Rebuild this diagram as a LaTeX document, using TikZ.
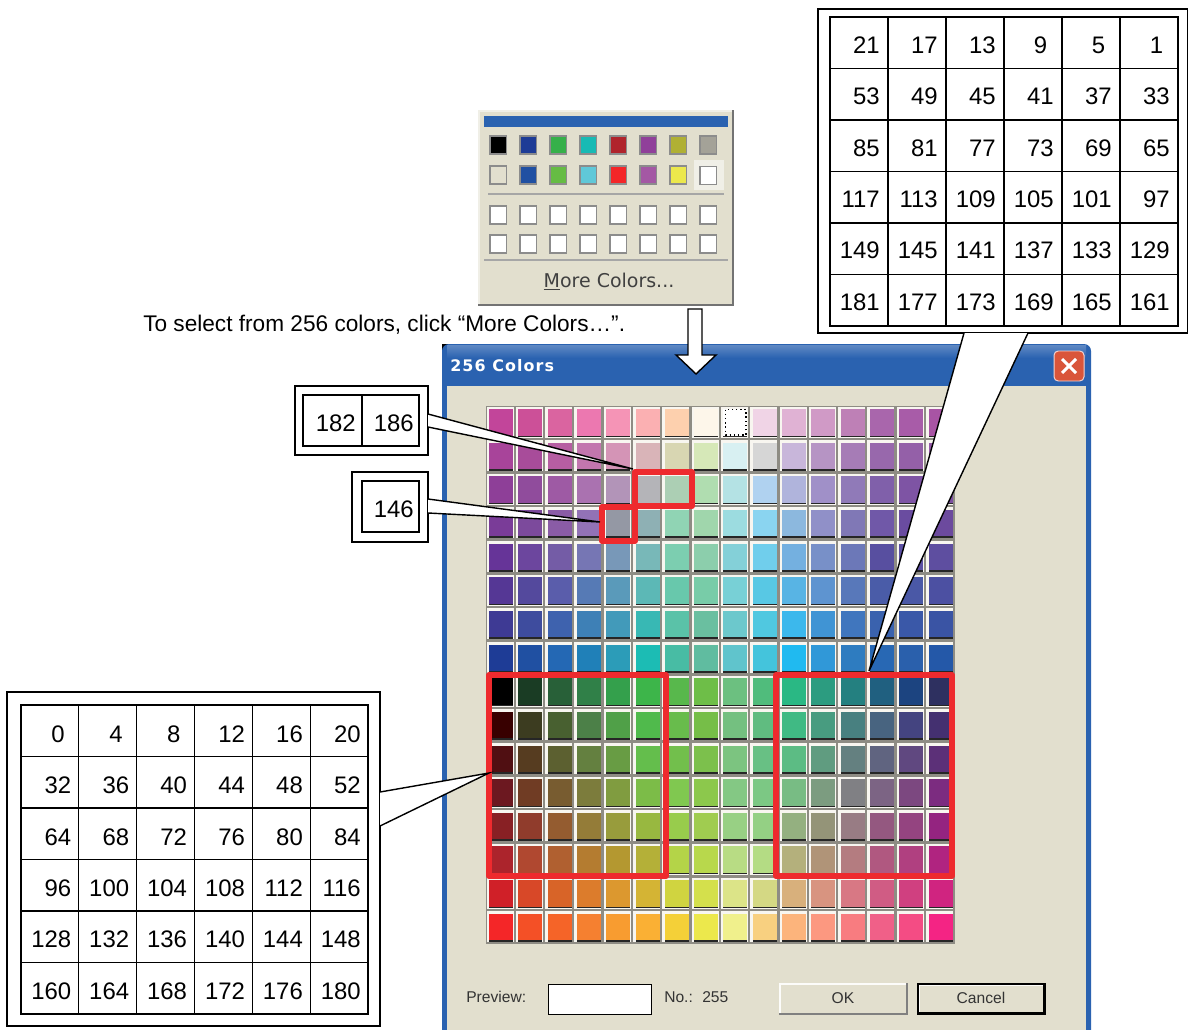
\documentclass[tikz,border=0pt]{standalone}
\usepackage{fontspec}
\setmainfont{Liberation Sans}
\newfontfamily\titlefont[LetterSpace=7]{DejaVu Sans}
\newfontfamily\uifont{DejaVu Sans}
\definecolor{facecol}{HTML}{E2DFCE}
\definecolor{barcol}{HTML}{2A62B0}
\definecolor{framecol}{HTML}{EE2A2E}
\definecolor{cellshade}{HTML}{8E8C84}
\definecolor{cellwhite}{HTML}{F8F6F0}
\definecolor{closecol}{HTML}{D9553A}
\tikzset{
    numtext/.style={anchor=east,inner sep=0pt,font=\fontsize{17}{20}\selectfont},
    uitext/.style={inner sep=0pt,font=\fontsize{11.1}{14}\selectfont,text=black!80},
    tabline/.style={draw=black,line width=0.75pt},
    redframe/.style={draw=framecol,line width=4.3pt,line join=round},
    callout/.style={draw=black,line width=1pt,line join=miter},
    swatch/.style={draw=black!45,line width=1.3pt}
}
\begin{document}
\begin{tikzpicture}[x=0.025cm,y=-0.025cm]
    \useasboundingbox (0,0) rectangle (1188,1030);
    \clip (0,0) rectangle (1188,1030);
    \fill[white] (0,0) rectangle (1188,1030);
    % window
    \fill[black] (442,344) rectangle (452,352);
    \fill[barcol,rounded corners=5] (442,344) -- (1091,344) -- (1091,1040) -- (442,1040) -- cycle;
    \fill[top color=barcol!75!white,bottom color=barcol] (447,345) rectangle (1086,358);
    \fill[barcol] (447,358) rectangle (1086,386);
    \fill[facecol] (447,386) rectangle (1086,1030);
    \node[inner sep=0pt,anchor=west,text=white,font=\titlefont\bfseries\fontsize{11.3}{14}\selectfont] (title) at (450,366) {256 Colors};
    \fill[closecol,draw=white!75!closecol,rounded corners=3,line width=0.7pt] (1054,351) rectangle (1084,381);
    \draw[white,line width=2.2pt] (1062,359) -- (1076,373) (1076,359) -- (1062,373);
    % palette
    \foreach \hex [count=\i from 0] in {
        C2459A,CC5098,DA64A0,EC78B0,F594B6,FBB0B2,FDD0AE,FDF6EA,FFFFFF,F0D4E6,E0B2D4,D09AC6,BE80B6,A966AC,A85CA8,A854A4,
        A8449A,A84C9A,B65EA2,C276AE,D494B6,D9B4B8,D8D6B2,D6E8B8,D8F0F2,D6D6D6,C8B6DA,B694C4,A67CB6,9868AC,9460A8,9458A6,
        8E3F98,904C9C,9E5AA4,AA72B0,B294B8,B4B4B8,ACCFB4,B0DDB0,B4E2E4,B0D2F0,B0B4DC,A090C8,907AB8,8060AA,7E54A4,7C50A0,
        7A3C98,7C4A9C,8A5CA6,9272B6,9498A4,8EB0B4,90D4B4,A0D6AC,9CDCE0,8AD4F0,8CB8DE,9090C8,8078B6,7058A8,6A4CA0,6C4A9E,
        663498,6C469E,745CA6,7676B4,7898B8,78B8B8,7CCEB0,8CCEAC,84D0D8,70CEEC,74B0E0,7890C8,6C78B8,584FA0,5C50A4,5E4EA0,
        553795,54499D,5A5DAB,567AB5,5A9ABA,5CB8B6,68C8AC,78CCA8,78D0D6,58C8E4,58B4E4,5E94D0,5878BA,4A5CA8,4A58A6,4C50A2,
        3E3A94,3E4C9E,3E62AE,3E80B6,429ABA,38B8B4,5AC2A8,6ABFA0,6CC8CC,50C8E0,3CB8EC,4094D4,4076BE,3A62AE,3A58A8,3A54A4,
        1E3C96,2050A2,2468B4,2080B8,2C9CB8,1CBCB4,48BCA4,60BCA0,60C4CC,44C4DC,20BAF0,3098D8,2E7CC0,2868B4,2A60AC,2458A8,
        000000,1A3C24,286038,308048,34A04C,3DB54A,58B84C,6EBE48,6CC080,50BC7C,2AB884,2C9C80,248080,206080,1C4480,2E3060,
        380000,3C3C20,486030,4C8048,50A048,50BA4C,68BC4C,76BE48,74C080,60BC80,40BA84,489C80,488080,486480,444480,443070,
        500F12,563C20,5C6030,648040,689C44,64BE4C,72BF4C,7CC04C,7CC480,68C084,5CBC84,609C80,648080,606480,604880,5C3078,
        6C1820,703C24,785C30,7C7C3C,809C40,7CBC48,80C850,8CC84C,84C884,7CC884,78BC84,7C9C80,808084,7C6484,7C4880,7C2C80,
        882024,903C2C,945C30,947C38,989C3C,98B840,98CC4C,A0CC50,98D084,94D084,94B080,949478,987C84,945880,944480,942480,
        AC242C,B04830,B06030,B47C30,B49830,B4B038,B4D448,B8D84C,B8DC84,B4DC84,B4B07C,B09478,B47C80,B05880,B04080,B02480,
        D02028,D84828,D86428,DC7C2C,DC982F,D4B434,D0D440,D4E04C,DCE488,D4D884,D8B07C,D89480,D87884,D05C84,D04080,D02480,
        F42628,F45026,F56428,F58030,F89C30,FAB034,F4D038,ECE84C,F0F08C,F8D080,FCB47C,FC9880,F87C80,F06088,F44C84,F42484}
    {
        \pgfmathsetmacro{\x}{486+29.3*mod(\i,16)}
        \pgfmathsetmacro{\y}{406+33.65*int(\i/16)}
        \definecolor{cellcol}{HTML}{\hex}
        \fill[cellshade] (\x,\y) rectangle (\x+29.3,\y+33.65);
        \fill[cellwhite] (\x+0.5,\y+0.5) rectangle (\x+27.5,\y+31.5);
        \fill[cellcol] (\x+3,\y+3) rectangle (\x+27,\y+29.5);
        \fill[black!85] (\x+3,\y+29.5) rectangle (\x+27,\y+31);
    }
    \draw[black,dotted,line width=1pt] (725.5,409.5) rectangle (746,435);
    % red frames
    \draw[redframe] (635,472) rectangle (692,506);
    \draw[redframe] (602,507) rectangle (635,541);
    \draw[redframe] (489,675) rectangle (666,876);
    \draw[redframe] (776,675) rectangle (952,876);
    % bottom row
    \node[uitext,anchor=west] (preview) at (466,997) {Preview:};
    \draw[fill=white,draw=black,line width=0.7pt] (548,984) rectangle (651,1014);
    \node[uitext,anchor=west] (numlabel) at (664,997) {No.:};
    \node[uitext,anchor=west] (numvalue) at (702,997) {255};
    \fill[black!50] (779,983) rectangle (908,1015);
    \fill[white!90!facecol] (779,983) rectangle (906,1013);
    \fill[facecol] (781,985) rectangle (906,1013);
    \fill[black] (917,983) rectangle (1046,1015);
    \fill[white!90!facecol] (918.5,984.5) rectangle (1043,1012);
    \fill[facecol] (920,986) rectangle (1043,1012);
    \node[uitext] (okbtn) at (843,998) {OK};
    \node[uitext] (cancelbtn) at (981,998) {Cancel};
    % popup
    \fill[black!55] (478,110) rectangle (734,306);
    \fill[facecol!50!white] (478,110) rectangle (732,304);
    \fill[facecol] (480,112) rectangle (732,304);
    \fill[barcol] (484,116) rectangle (728,127);
    \draw[black!35,line width=0.9pt] (488,194) -- (724,194);
    \draw[black!35,line width=0.9pt] (484,260) -- (728,260);
    \foreach \hex [count=\i from 0] in {
        000000,1E3C96,36B04A,18BAB4,B0242C,90409A,B0B034,A4A298,
        E2DFCE,2050A2,66BC44,60C8D8,F42628,A458A4,ECE84C}
    {
        \pgfmathsetmacro{\x}{498.3+30*mod(\i,8)}
        \pgfmathsetmacro{\y}{145+30*int(\i/8)}
        \definecolor{cellcol}{HTML}{\hex}
        \fill[cellcol,swatch] (\x-8.2,\y-9) rectangle (\x+8.2,\y+9);
    }
    \fill[facecol!50!white] (694,160) rectangle (724,190);
    \fill[white,swatch] (700.1,166.5) rectangle (716.5,184.5);
    \foreach \y in {215,244}
        \foreach \c in {0,...,7}
            \fill[white,swatch] (498.3+30*\c-8.2,\y-9) rectangle (498.3+30*\c+8.2,\y+9);
    \node[uitext,text=black!75,font=\uifont\fontsize{13.5}{16}\selectfont] (more) at (609,282) {\underline{M}ore Colors...};
    % caption and arrow
    \node[inner sep=0pt,anchor=west,font=\fontsize{16.1}{19}\selectfont] (caption) at (143,325) {To select from 256 colors, click “More Colors…”.};
    \draw[fill=white,line width=1pt,line join=miter] (688,309) -- (702,309) -- (702,355) -- (716,355) -- (696,374) -- (676,355) -- (688,355) -- cycle;
    % bottom left table
    \coordinate (ltip) at (489,773);
    \coordinate (la) at (380,792);
    \coordinate (lb) at (380,826);
    \draw[tabline,fill=white] (7,692) rectangle (380,1026);
    \fill[white] (la) -- (ltip) -- (lb) -- cycle;
    \draw[callout] (la) -- (ltip) -- (lb);
    \draw[tabline] (21,705) rectangle (368,1014);
    \foreach \c in {0,...,5} {
        \foreach \r in {0,...,5} {
            \pgfmathtruncatemacro{\num}{32*\r+4*\c}
            \pgfmathsetmacro{\nudge}{\num<10 ? 6.5 : 0}
            \node[numtext] (left\r\c) at (71.5+57.9*\c-\nudge,734+51.4*\r) {\num};
        }
    }
    \foreach \c in {1,...,5}
        \draw[tabline] (21+57.9*\c,705) -- (21+57.9*\c,1014);
    \foreach \r in {1,...,5}
        \draw[tabline] (21,705+51.5*\r) -- (368,705+51.5*\r);
    % top right table
    \coordinate (rtip) at (869,671);
    \coordinate (ra) at (964,333);
    \coordinate (rb) at (1028,333);
    \draw[tabline,fill=white] (818,9) rectangle (1188,333);
    \fill[white] (ra) -- (rtip) -- (rb) -- cycle;
    \draw[callout] (ra) -- (rtip) -- (rb);
    \draw[tabline] (830,17) rectangle (1178,326);
    \foreach \c in {0,...,5} {
        \foreach \r in {0,...,5} {
            \pgfmathtruncatemacro{\num}{21-4*\c+32*\r}
            \pgfmathsetmacro{\nudge}{\num<10 ? 6.5 : 0}
            \node[numtext] (right\r\c) at (880+58*\c-\nudge,45+51.4*\r) {\num};
        }
    }
    \foreach \c in {1,...,5}
        \draw[tabline] (830+58*\c,17) -- (830+58*\c,326);
    \foreach \r in {1,...,5}
        \draw[tabline] (830,17+51.5*\r) -- (1178,17+51.5*\r);
    % small tables
    \coordinate (atip) at (633,469);
    \coordinate (aa) at (428,414);
    \coordinate (ab) at (428,427);
    \draw[tabline,fill=white] (295,386) rectangle (428,455);
    \fill[white] (aa) -- (atip) -- (ab) -- cycle;
    \draw[callout] (aa) -- (atip) -- (ab);
    \draw[tabline] (303,395) rectangle (419,446);
    \draw[tabline] (362,395) -- (362,446);
    \node[numtext] (cella) at (356,423) {182};
    \node[numtext] (cellb) at (414,423) {186};
    \coordinate (btip) at (600,522);
    \coordinate (ba) at (428,499);
    \coordinate (bb) at (428,513);
    \draw[tabline,fill=white] (352,472) rectangle (428,542);
    \fill[white] (ba) -- (btip) -- (bb) -- cycle;
    \draw[callout] (ba) -- (btip) -- (bb);
    \draw[tabline] (362,481) rectangle (419,532);
    \node[numtext] (cellc) at (414,509) {146};
\end{tikzpicture}
\end{document}
